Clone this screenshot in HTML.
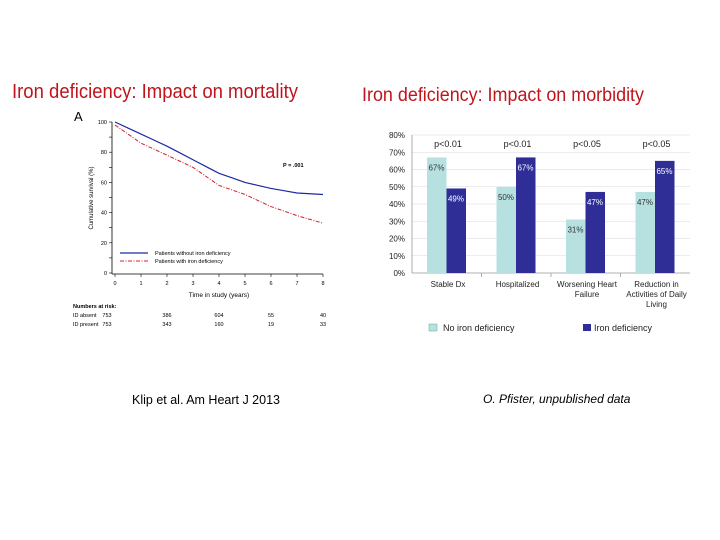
<!DOCTYPE html>
<html><head><meta charset="utf-8"><style>
html,body{margin:0;padding:0;background:#fff;}
svg{display:block;font-family:"Liberation Sans",Arial,sans-serif;}
</style></head><body>
<svg id="s" width="720" height="540" viewBox="0 0 720 540">
<text x="12" y="98" font-size="20" fill="#c0141c" textLength="286" lengthAdjust="spacingAndGlyphs">Iron deficiency: Impact on mortality</text>
<text x="362" y="101" font-size="19" fill="#c0141c" textLength="282" lengthAdjust="spacingAndGlyphs">Iron deficiency: Impact on morbidity</text>
<text x="74" y="121" font-size="13" fill="#000">A</text>
<g id="km"></g>
<g id="bar"></g>
<text x="132" y="404" font-size="12.5" fill="#000">Klip et al. Am Heart J 2013</text>
<text x="483" y="403" font-size="12" font-style="italic" fill="#000">O. Pfister, unpublished data</text>
</svg>
<script>
const years=[0,1,2,3,4,5,6,7,8];
const survAbsent=[100,92,84,75,66,60,56,53,52];
const survPresent=[98,86,78,70,58,52,44,38,33];
const yTicks=[0,20,40,60,80,100];
const riskAbsent=[753,386,604,55,40];
const riskPresent=[753,343,160,19,33];
const riskYears=[0,2,4,6,8];
const cats=[["Stable Dx"],["Hospitalized"],["Worsening Heart","Failure"],["Reduction in","Activities of Daily","Living"]];
const noID=[67,50,31,47];
const withID=[49,67,47,65];
const pvals=["p<0.01","p<0.01","p<0.05","p<0.05"];
const barTicks=[0,10,20,30,40,50,60,70,80];
const NS="http://www.w3.org/2000/svg";
function mk(p,t,a,txt){const e=document.createElementNS(NS,t);for(const k in a)e.setAttribute(k,a[k]);if(txt!=null)e.textContent=txt;p.appendChild(e);return e;}
// KM
const km=document.getElementById('km');
const kx=v=>115+v*(323-115)/8, ky=v=>273-v*(273-122)/100;
mk(km,'line',{x1:112,y1:122,x2:112,y2:274,stroke:'#000','stroke-width':0.8});
mk(km,'line',{x1:112,y1:274,x2:323,y2:274,stroke:'#000','stroke-width':0.8});
for(let v=0;v<=100;v+=10){mk(km,'line',{x1:109,y1:ky(v),x2:112,y2:ky(v),stroke:'#000','stroke-width':0.6});}
yTicks.forEach(v=>{const t=mk(km,'text',{x:107,y:ky(v)+2,'font-size':5.5,'text-anchor':'end'},String(v));});
years.forEach(v=>{mk(km,'line',{x1:kx(v),y1:274,x2:kx(v),y2:277,stroke:'#000','stroke-width':0.6});const t=mk(km,'text',{x:kx(v),y:285,'font-size':5.5,'text-anchor':'middle'},String(v));});
const yl=mk(km,'text',{x:0,y:0,'font-size':6,'text-anchor':'middle',transform:`translate(93,198) rotate(-90)`},'Cumulative survival (%)');

const xl=mk(km,'text',{x:219,y:297,'font-size':6.5,'text-anchor':'middle'},'Time in study (years)');

function step(arr){let d=`M${kx(0)},${ky(arr[0])}`;for(let i=1;i<arr.length;i++){d+=` L${kx(years[i]-0.5)},${ky((arr[i-1]+arr[i])/2)} L${kx(years[i])},${ky(arr[i])}`;}return d;}
const lb=mk(km,'path',{d:step(survAbsent),fill:'none',stroke:'#1c2aa0','stroke-width':1.2});

const lr=mk(km,'path',{d:step(survPresent),fill:'none',stroke:'#d0202a','stroke-width':1,'stroke-dasharray':'4,1.5,1,1.5'});

mk(km,'text',{x:283,y:167,'font-size':5.5,'font-weight':'bold'},'P = .001');
mk(km,'line',{x1:120,y1:253,x2:148,y2:253,stroke:'#1c2aa0','stroke-width':1.2});
mk(km,'text',{x:155,y:255,'font-size':5.5},'Patients without iron deficiency');
mk(km,'line',{x1:120,y1:261,x2:148,y2:261,stroke:'#d0202a','stroke-width':1,'stroke-dasharray':'4,1.5,1,1.5'});
mk(km,'text',{x:155,y:263,'font-size':5.5},'Patients with iron deficiency');
mk(km,'text',{x:73,y:308,'font-size':5.5,'font-weight':'bold'},'Numbers at risk:');
mk(km,'text',{x:73,y:317,'font-size':5.5},'ID absent');
mk(km,'text',{x:73,y:326,'font-size':5.5},'ID present');
riskYears.forEach((y,i)=>{const a=i===0?kx(y)-8:kx(y);
mk(km,'text',{x:a,y:317,'font-size':5.5,'text-anchor':'middle'},String(riskAbsent[i]));
mk(km,'text',{x:a,y:326,'font-size':5.5,'text-anchor':'middle'},String(riskPresent[i]));});
// Bar chart
const bc=document.getElementById('bar');
const x0=412,gw=69.5,by=v=>273-v*(273-135)/80;
barTicks.forEach(v=>{const t=mk(bc,'text',{x:405,y:by(v)+3,'font-size':8,'text-anchor':'end',fill:'#222'},v+'%');
if(v>0)mk(bc,'line',{x1:412,y1:by(v),x2:690,y2:by(v),stroke:'#d8d8d8','stroke-width':0.6});});
mk(bc,'line',{x1:412,y1:273,x2:690,y2:273,stroke:'#999','stroke-width':0.8});
mk(bc,'line',{x1:412,y1:135,x2:412,y2:273,stroke:'#999','stroke-width':0.8});
cats.forEach((c,i)=>{const gx=x0+i*gw;
if(i>0)mk(bc,'line',{x1:gx,y1:273,x2:gx,y2:277,stroke:'#999','stroke-width':0.8});
const r1=mk(bc,'rect',{x:gx+15,y:by(noID[i]),width:19.5,height:273-by(noID[i]),fill:'#b7e0e0'});

const r2=mk(bc,'rect',{x:gx+34.5,y:by(withID[i]),width:19.5,height:273-by(withID[i]),fill:'#2e2e96'});

mk(bc,'text',{x:gx+24.5,y:by(noID[i])+13,'font-size':8,'text-anchor':'middle',fill:'#333'},noID[i]+'%');
mk(bc,'text',{x:gx+44,y:by(withID[i])+13,'font-size':8,'text-anchor':'middle',fill:'#fff'},withID[i]+'%');
mk(bc,'text',{x:gx+36,y:147,'font-size':9,'text-anchor':'middle',fill:'#222'},pvals[i]);
c.forEach((ln,j)=>mk(bc,'text',{x:gx+36,y:287+j*10,'font-size':8,'text-anchor':'middle',fill:'#222'},ln));});
mk(bc,'rect',{x:429,y:324,width:8,height:7,fill:'#b7e0e0',stroke:'#6a9','stroke-width':0.5});
mk(bc,'text',{x:443,y:331,'font-size':9,fill:'#222'},'No iron deficiency');
mk(bc,'rect',{x:583,y:324,width:8,height:7,fill:'#2e2e96'});
mk(bc,'text',{x:594,y:331,'font-size':9,fill:'#222'},'Iron deficiency');
</script>
</body></html>
